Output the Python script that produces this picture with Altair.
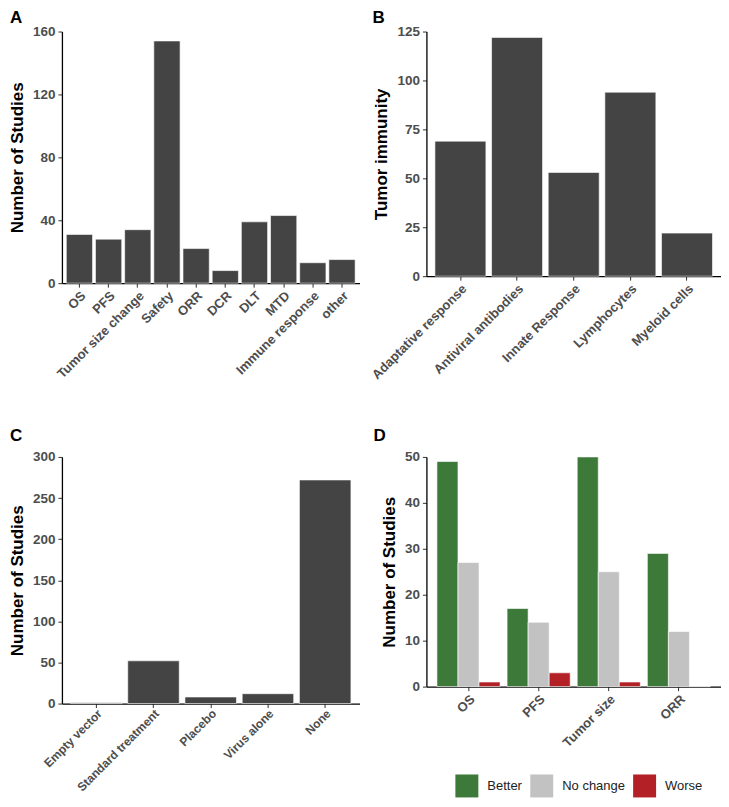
import altair as alt
import pandas as pd

# Panel A
a_cats = ["OS", "PFS", "Tumor size change", "Safety", "ORR", "DCR", "DLT", "MTD", "Immune response", "other"]
a_vals = [31, 28, 34, 154, 22, 8, 39, 43, 13, 15]
# Panel B
b_cats = ["Adaptative response", "Antiviral antibodies", "Innate Response", "Lymphocytes", "Myeloid cells"]
b_vals = [69, 122, 53, 94, 22]
# Panel C
c_cats = ["Empty vector", "Standard treatment", "Placebo", "Virus alone", "None"]
c_vals = [1, 52, 8, 12, 272]
# Panel D
d_cats = ["OS", "PFS", "Tumor size", "ORR"]
d_groups = ["Better", "No change", "Worse"]
d_better = [49, 17, 50, 29]
d_nochange = [27, 14, 25, 12]
d_worse = [1, 3, 1, 0]

BAR = "#444444"
GROUP_COLORS = ["#3d7a3a", "#c2c2c2", "#b32025"]
FONT = "Liberation Sans"

axis_common = dict(
    labelFont=FONT, labelFontWeight="bold", labelColor="#4d4d4d",
    titleFont=FONT, titleFontSize=17, titleFontWeight="bold", titleColor="#000000",
    domainColor="#000000", domainWidth=1.3, tickColor="#333333", tickSize=4, tickWidth=1,
    grid=False,
)


def x_axis(size=13, pad=2):
    return alt.Axis(title=None, labelAngle=-45, labelAlign="right", labelBaseline="top",
                    labelPadding=pad, labelLimit=300, labelFontSize=size, **axis_common)


def y_axis(title, values):
    return alt.Axis(title=title, values=values, labelPadding=3, titlePadding=6,
                    labelFontSize=13.5, **axis_common)


def panel_title(letter, dx, offset):
    return alt.TitleParams(letter, anchor="start", frame="group", dx=dx, offset=offset,
                           font=FONT, fontSize=17, fontWeight="bold", color="#000000")


def simple_bar(cats, vals, ytitle, ymax, yticks, letter, w, h, dx, offset, xsize=13, xpad=2):
    df = pd.DataFrame({"cat": cats, "val": vals})
    return alt.Chart(df, title=panel_title(letter, dx, offset)).mark_bar(
        color=BAR, stroke="#ffffff", strokeOpacity=0.6, strokeWidth=1
    ).encode(
        x=alt.X("cat:N", sort=cats, axis=x_axis(xsize, xpad),
                scale=alt.Scale(paddingInner=0.1, paddingOuter=0.15)),
        y=alt.Y("val:Q", axis=y_axis(ytitle, yticks),
                scale=alt.Scale(domain=[0, ymax], nice=False)),
    ).properties(width=w, height=h)


chA = simple_bar(a_cats, a_vals, "Number of Studies", 160, [0, 40, 80, 120, 160], "A", 298, 252, -52, -2)
chB = simple_bar(b_cats, b_vals, "Tumor immunity", 125, [0, 25, 50, 75, 100, 125], "B", 295, 245, -54, -2)
chC = simple_bar(c_cats, c_vals, "Number of Studies", 300, [0, 50, 100, 150, 200, 250, 300], "C", 298, 247, -52, 5,
                 xsize=12, xpad=0)

rows = []
for i, c in enumerate(d_cats):
    rows.append({"cat": c, "grp": "Better", "val": d_better[i]})
    rows.append({"cat": c, "grp": "No change", "val": d_nochange[i]})
    rows.append({"cat": c, "grp": "Worse", "val": d_worse[i]})
dfD = pd.DataFrame(rows)

chD = alt.Chart(dfD, title=panel_title("D", -53, 5)).mark_bar(
    stroke="#ffffff", strokeOpacity=0.6, strokeWidth=1
).encode(
    x=alt.X("cat:N", sort=d_cats, axis=x_axis(),
            scale=alt.Scale(paddingInner=0.1, paddingOuter=0.15)),
    xOffset=alt.XOffset("grp:N", sort=d_groups, scale=alt.Scale(paddingInner=0, paddingOuter=0)),
    y=alt.Y("val:Q", axis=y_axis("Number of Studies", [0, 10, 20, 30, 40, 50]),
            scale=alt.Scale(domain=[0, 50], nice=False)),
    color=alt.Color("grp:N", sort=d_groups,
                    scale=alt.Scale(domain=d_groups, range=GROUP_COLORS),
                    legend=alt.Legend(title=None, orient="none", direction="horizontal",
                                      legendX=394, legendY=744,
                                      symbolType="square", symbolSize=529, symbolStrokeWidth=0,
                                      symbolOpacity=1,
                                      labelFont=FONT, labelFontSize=13, labelColor="#222222",
                                      labelOffset=9, columnPadding=8)),
).properties(width=295, height=230)

chart = alt.concat(chA, chB, chC, chD, columns=2, bounds="flush", align="each",
                   spacing={"row": 174, "column": 67}).properties(padding=0).configure_view(stroke=None)

chart.save("out.html", embed_options={"renderer": "svg", "actions": False})
